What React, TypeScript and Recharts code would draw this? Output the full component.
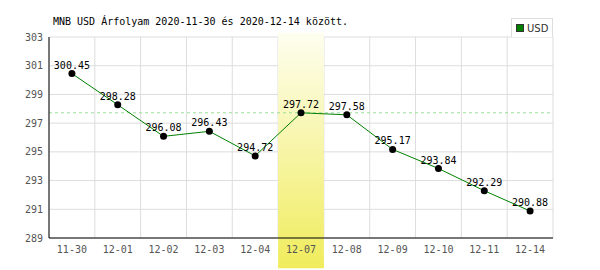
import React from "react";
import {
  LineChart,
  Line,
  XAxis,
  YAxis,
  CartesianGrid,
  ReferenceArea,
  ReferenceLine,
  LabelList,
} from "recharts";

const dates = ["11-30", "12-01", "12-02", "12-03", "12-04", "12-07", "12-08", "12-09", "12-10", "12-11", "12-14"];
const usdRates = [300.45, 298.28, 296.08, 296.43, 294.72, 297.72, 297.58, 295.17, 293.84, 292.29, 290.88];
const yTicks = [289, 291, 293, 295, 297, 299, 301, 303];
const highlightDate = "12-07";
const highlightRate = 297.72;

const data = dates.map((d, i) => ({ date: d, usd: usdRates[i] }));

const mono = "'DejaVu Sans Mono', 'Liberation Mono', monospace";

const UsdLegend = () => (
  <div
    style={{
      position: "absolute",
      left: 511,
      top: 18,
      border: "1px solid #ddd",
      borderBottom: "none",
      background: "#fff",
      height: 19,
      width: 42,
      display: "flex",
      alignItems: "center",
      fontFamily: "'DejaVu Sans', sans-serif",
      fontSize: 10,
      color: "#333",
      boxSizing: "border-box",
      zIndex: 2,
    }}
  >
    <span
      style={{
        display: "inline-block",
        width: 6,
        height: 6,
        background: "#008000",
        border: "1px solid #333",
        marginLeft: 4,
        marginRight: 3,
      }}
    />
    USD
  </div>
);

const App = () => {
  return (
    <div style={{ position: "absolute", left: 0, top: 0, width: 600, height: 270, background: "#fff" }}>
      <div
        style={{
          position: "absolute",
          left: 53,
          top: 16,
          fontFamily: mono,
          fontSize: 10,
          color: "#000",
          whiteSpace: "nowrap",
        }}
      >
        MNB USD Árfolyam 2020-11-30 és 2020-12-14 között.
      </div>
      <UsdLegend />
      <LineChart
        width={600}
        height={270}
        data={data}
        margin={{ top: 37, right: 47, bottom: 0, left: 0 }}
      >
        <defs>
          <linearGradient id="hl" x1="0" y1="0" x2="0" y2="1">
            <stop offset="0%" stopColor="#fefef0" />
            <stop offset="100%" stopColor="#f0ec5c" />
          </linearGradient>
        </defs>
        <ReferenceArea
          x1={highlightDate}
          x2={highlightDate}
          y1={286.9}
          y2={303.3}
          ifOverflow="visible"
          fill="url(#hl)"
          fillOpacity={1}
          stroke="none"
        />
        <CartesianGrid
          stroke="#ddd"
          strokeWidth={1}
          verticalCoordinatesGenerator={({ offset }: any) =>
            dates.map((_, i) => offset.left + (i * offset.width) / dates.length).concat(offset.left + offset.width)
          }
        />
        <XAxis
          dataKey="date"
          scale="band"
          tickLine={false}
          axisLine={{ stroke: "#000", strokeWidth: 1 }}
          height={32}
          tick={{ fill: "#555", fontSize: 10, fontFamily: mono }}
          interval={0}
        />
        <YAxis
          domain={[289, 303]}
          ticks={yTicks}
          tickLine={false}
          axisLine={{ stroke: "#000", strokeWidth: 1 }}
          width={49}
          tickMargin={0}
          tick={{ fill: "#555", fontSize: 10, fontFamily: mono }}
          allowDataOverflow
        />
        <ReferenceLine y={highlightRate} stroke="#99dd99" strokeDasharray="3 3" />
        <Line
          dataKey="usd"
          stroke="#008000"
          strokeWidth={1}
          isAnimationActive={false}
          dot={{ r: 3.5, fill: "#000", stroke: "#000", strokeWidth: 0 }}
          activeDot={false}
        >
          <LabelList
            dataKey="usd"
            position="top"
            offset={5}
            style={{ fill: "#000", fontSize: 10, fontFamily: mono }}
            formatter={(v: any) => Number(v).toFixed(2)}
          />
        </Line>
      </LineChart>
    </div>
  );
};

export default App;
